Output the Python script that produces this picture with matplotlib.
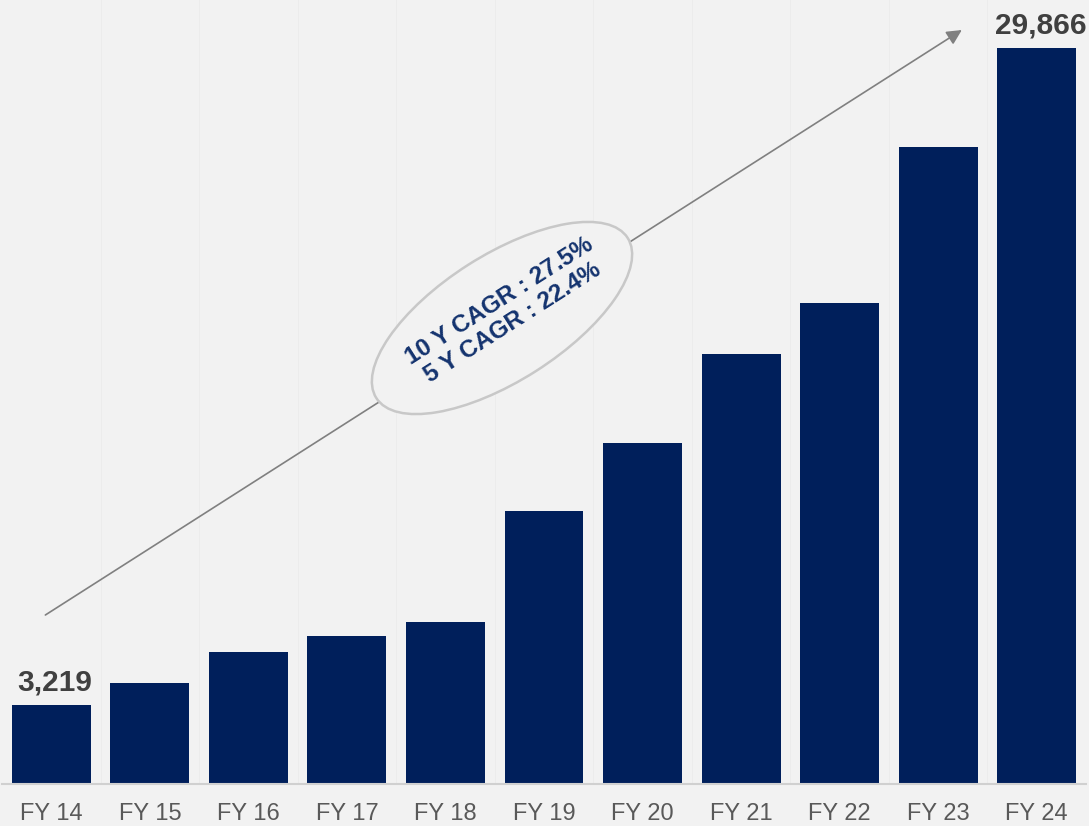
import matplotlib
matplotlib.use("Agg")
import matplotlib.pyplot as plt
from matplotlib.patches import Ellipse
from matplotlib.transforms import IdentityTransform

categories = ["FY 14", "FY 15", "FY 16", "FY 17", "FY 18", "FY 19",
              "FY 20", "FY 21", "FY 22", "FY 23", "FY 24"]
values = [3219, 4100, 5360, 6010, 6575, 11080, 13840, 17450, 19520, 25850, 29866]
labels = {0: "3,219", 10: "29,866"}
cagr_text = "10 Y CAGR : 27.5%\n5 Y CAGR : 22.4%"

plt.rcParams['font.family'] = ['Liberation Sans', 'DejaVu Sans']

W, H = 1089, 826
fig = plt.figure(figsize=(W / 100, H / 100), dpi=100)
bg = '#f2f2f2'
fig.patch.set_facecolor(bg)
ax = fig.add_axes([2 / W, 42 / H, 1084 / W, 784 / H])
ax.set_facecolor(bg)

x = list(range(len(categories)))
for b in range(len(categories) - 1):
    ax.axvline(b + 0.5, color='#ececec', lw=0.7, zorder=0)

ax.bar(x, values, width=0.8, color='#001f5b', zorder=2)
ax.set_xlim(-0.5, len(categories) - 0.5)
ax.set_ylim(0, 31815)

for s in ['top', 'right', 'left']:
    ax.spines[s].set_visible(False)
ax.spines['bottom'].set_color('#d0d0d0')
ax.spines['bottom'].set_linewidth(1.5)
ax.set_yticks([])
ax.set_xticks(x)
ax.set_xticklabels(categories, fontsize=17, color='#595959')
ax.tick_params(axis='x', length=0, pad=14)

for i, t in labels.items():
    ax.text(i + 0.04, values[i] + 350, t, ha='center', va='bottom',
            fontsize=21.5, fontweight='bold', color='#404040')

# arrow
ax.annotate('', xy=(9.24, 30597), xytext=(-0.06, 6858),
            arrowprops=dict(arrowstyle='-|>,head_length=0.9,head_width=0.45',
                            color='#808080', lw=1.2, shrinkA=0, shrinkB=0),
            zorder=3)

# ellipse
ell = Ellipse((502, H - 318), 298, 126, angle=32.5, transform=IdentityTransform(),
              facecolor=bg, edgecolor='#c8c8c8', lw=1.8, zorder=4)
fig.add_artist(ell)
fig.text(506 / W, 1 - 312 / H, cagr_text, ha='center', va='center',
         rotation=32.5, rotation_mode='anchor', fontsize=17.5, fontweight='bold',
         color='#14336e', linespacing=1.1, multialignment='center', zorder=5)

fig.savefig('out.png', dpi=100, facecolor=bg)
